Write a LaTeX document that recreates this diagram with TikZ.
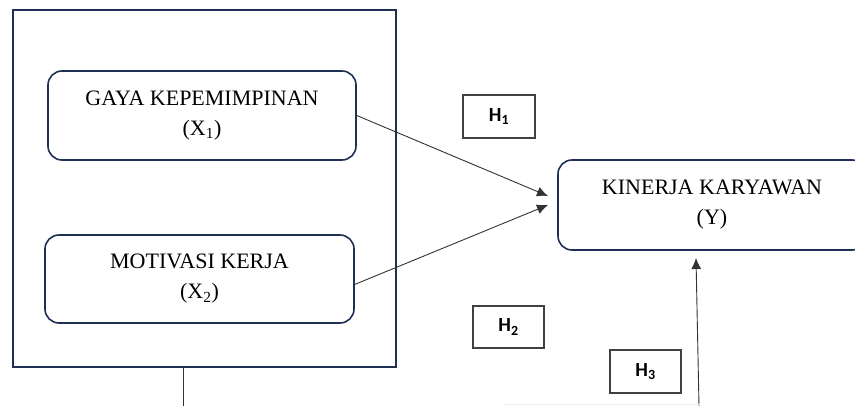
\documentclass[tikz,border=0pt]{standalone}
\usepackage{fontspec}
\setmainfont{Liberation Serif}
\newfontfamily\hfont{Carlito}
\usetikzlibrary{arrows.meta}
\definecolor{navy}{RGB}{31,48,84}
\definecolor{hgray}{RGB}{64,64,64}
\tikzset{
varbox/.style={draw=navy,line width=1.6pt,rounded corners=14pt,align=center,
  font=\fontsize{22}{30}\selectfont,inner sep=0pt},
hbox/.style={draw=hgray,line width=1.2pt,minimum width=71pt,minimum height=42pt,
  font=\hfont\bfseries\fontsize{20}{22}\selectfont,inner sep=0pt},
link/.style={draw=black!80,line width=0.9pt,-{Latex[length=11pt,width=10pt]}},
}
\tikzstyle{frame} = [draw=navy, line width=1.6pt]

\begin{document}
\begin{tikzpicture}[x=1pt,y=-1pt]
\useasboundingbox (0,0) rectangle (855,406);
\draw[frame] (13,10) rectangle (396,367);
\coordinate (fb) at (183,367);
\coordinate (fe) at (183,406);
\draw[line width=1pt,black!80] (fb) -- (fe);

\node[varbox,minimum width=308pt,minimum height=89pt] (gaya) at (202,115.5)
  {GAYA KEPEMIMPINAN\\(X\textsubscript{1})};
\node[varbox,minimum width=309pt,minimum height=88pt] (motiv) at (199.5,279)
  {MOTIVASI KERJA\\(X\textsubscript{2})};
\node[varbox,minimum width=308pt,minimum height=90pt] (kinerja) at (712,205)
  {KINERJA KARYAWAN\\(Y)};

\node[hbox,minimum width=72pt,minimum height=43pt] (h1) at (499,116.5) {H\textsubscript{1}};
\node[hbox] (h2) at (508.5,327) {H\textsubscript{2}};
\node[hbox,minimum height=43pt] (h3) at (645.5,371.5) {H\textsubscript{3}};

\coordinate (in1) at (548,196);
\coordinate (in2) at (548,205);
\coordinate (in3) at (696,258);
\coordinate (up) at (699,406);
\draw[link] (gaya.east) -- (in1);
\draw[link] (motiv.-2) -- (in2);
\draw[link] (up) -- (in3);

% faint edge at the bottom
\coordinate (ea) at (503,404);
\coordinate (eb) at (700,404);
\draw[gray!15,line width=0.8pt] (ea) -- (eb);
\end{tikzpicture}
\end{document}
